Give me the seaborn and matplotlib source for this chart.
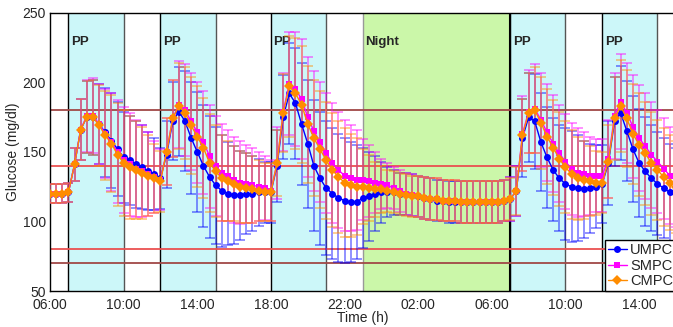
import numpy as np
import pandas as pd
import matplotlib
matplotlib.use("Agg")
import matplotlib.pyplot as plt
import matplotlib.dates as mdates
import seaborn as sns

# sampling instants: every 20 min, 06:00 day 1 -> 16:00 day 2
times = pd.date_range("2020-01-01 06:00", "2020-01-02 16:00", freq="20min")

# mean glucose (mg/dl), one line per block of the day
umpc_mean = (
    [120, 120, 120, 121, 141, 166, 175, 175, 170, 164, 158, 152, 146, 144, 141, 139, 136, 134]
    + [131, 148, 172, 179, 172, 160, 150, 140, 132, 126, 122, 120, 119, 119, 120, 120, 121, 121]
    + [121, 140, 175, 192, 185, 170, 156, 140, 131, 124, 120, 117, 115, 114, 114]
    + [117, 118, 120, 121, 121, 121, 120, 120, 119, 118, 117, 116,
       115, 115, 114, 114, 114, 114, 114, 114, 114, 114, 114, 115]
    + [116, 122, 160, 175, 172, 157, 146, 137, 131, 127, 125, 124, 123, 124, 125]
    + [127, 142, 172, 178, 165, 152, 142, 136, 131, 127, 124, 121, 119]
)
smpc_mean = (
    [120, 120, 120, 121, 141, 166, 176, 176, 170, 163, 157, 150, 144, 141, 138, 136, 134, 132]
    + [130, 150, 174, 184, 180, 172, 164, 157, 147, 140, 135, 133, 130, 128, 127, 126, 125, 124]
    + [122, 142, 179, 199, 195, 188, 175, 165, 157, 149, 142, 137, 133, 131, 130]
    + [130, 129, 128, 127, 126, 124, 122, 120, 119, 118, 117, 116,
       116, 115, 115, 115, 114, 114, 114, 114, 114, 114, 114, 115]
    + [116, 122, 163, 179, 181, 173, 164, 156, 149, 143, 138, 135, 134, 133, 133]
    + [133, 145, 176, 186, 178, 168, 160, 154, 148, 143, 138, 133, 130]
)
cmpc_mean = (
    [120, 120, 120, 121, 141, 166, 175, 175, 169, 162, 156, 148, 142, 139, 137, 135, 133, 131]
    + [129, 150, 174, 183, 178, 169, 161, 153, 142, 136, 131, 129, 127, 125, 124, 123, 122, 121]
    + [121, 142, 178, 197, 192, 184, 170, 160, 152, 144, 137, 132, 128, 126, 125]
    + [125, 124, 123, 123, 122, 121, 120, 119, 118, 118, 117, 116,
       116, 115, 115, 115, 114, 114, 114, 114, 114, 114, 114, 115]
    + [116, 122, 162, 178, 180, 171, 161, 153, 145, 139, 134, 131, 130, 129, 128]
    + [128, 143, 174, 183, 174, 163, 155, 149, 142, 137, 132, 128, 125]
)

# standard deviations (error bar half-heights)
umpc_sd = (
    [7, 7, 7, 7, 12, 22, 26, 27, 29, 32, 34, 34, 33, 32, 31, 30, 28, 26]
    + [22, 24, 28, 32, 36, 40, 43, 44, 44, 42, 40, 37, 35, 32, 29, 27, 24, 22]
    + [22, 26, 30, 36, 40, 44, 46, 47, 48, 48, 47, 46, 45, 43, 41]
    + [36, 32, 27, 22, 18, 16, 15, 15, 15, 15, 15, 15,
       15, 15, 15, 15, 15, 15, 15, 15, 15, 15, 15, 15]
    + [16, 18, 28, 32, 34, 35, 36, 37, 38, 40, 40, 38, 35, 32, 30]
    + [28, 30, 32, 34, 36, 38, 39, 39, 38, 37, 36, 35, 34]
)
smpc_sd = (
    [7, 7, 7, 7, 12, 22, 26, 27, 29, 32, 35, 37, 38, 37, 35, 33, 30, 26]
    + [22, 24, 28, 31, 33, 35, 36, 37, 37, 36, 35, 33, 31, 30, 28, 27, 25, 23]
    + [22, 26, 28, 37, 41, 43, 43, 43, 43, 43, 43, 42, 40, 38, 36]
    + [29, 26, 22, 18, 16, 15, 15, 15, 15, 15, 15, 15,
       15, 15, 15, 15, 15, 15, 15, 15, 15, 15, 15, 15]
    + [16, 18, 27, 30, 32, 34, 35, 35, 35, 34, 33, 32, 30, 28, 26]
    + [26, 28, 31, 34, 36, 37, 38, 38, 38, 37, 36, 35, 34]
)
cmpc_sd = (
    [7, 7, 7, 7, 12, 22, 26, 27, 29, 32, 35, 37, 38, 37, 35, 33, 29, 25]
    + [22, 24, 28, 31, 33, 35, 36, 36, 35, 33, 31, 29, 27, 26, 25, 24, 22, 21]
    + [21, 24, 28, 36, 40, 42, 42, 42, 42, 42, 41, 40, 39, 37, 35]
    + [27, 24, 20, 17, 15, 15, 15, 15, 15, 15, 15, 15,
       15, 15, 15, 15, 15, 15, 15, 15, 15, 15, 15, 15]
    + [15, 17, 26, 29, 31, 33, 34, 34, 34, 33, 32, 30, 28, 25, 23]
    + [22, 26, 30, 33, 35, 36, 37, 37, 37, 36, 35, 34, 33]
)

# post-prandial windows and the night window
pp_windows = [
    ("2020-01-01 07:00", "2020-01-01 10:00"),
    ("2020-01-01 12:00", "2020-01-01 15:00"),
    ("2020-01-01 18:00", "2020-01-01 21:00"),
    ("2020-01-02 07:00", "2020-01-02 10:00"),
    ("2020-01-02 12:00", "2020-01-02 15:00"),
]
night_window = ("2020-01-01 23:00", "2020-01-02 07:00")

# glucose thresholds
thresholds_dark = [180, 70]
thresholds_light = [140, 80]

series = [
    ("UMPC", umpc_mean, umpc_sd, "#0000ff", "o"),
    ("SMPC", smpc_mean, smpc_sd, "#ff00ff", "s"),
    ("CMPC", cmpc_mean, cmpc_sd, "#ff8c00", "D"),
]


def main():
    sns.set_style("ticks")
    plt.rcParams["font.family"] = ["Liberation Sans", "DejaVu Sans"]
    plt.rcParams["font.size"] = 10

    fig = plt.figure(figsize=(6.73, 3.27), dpi=100)
    ax = fig.add_axes([0.0743, 0.11, 0.930, 0.851])

    # shaded windows
    for start, end in pp_windows:
        ax.axvspan(pd.Timestamp(start), pd.Timestamp(end), color="#ccf7f9", lw=0, zorder=0)
        ax.axvline(pd.Timestamp(start), color="black", lw=1, zorder=1)
        ax.axvline(pd.Timestamp(end), color="#555555", lw=1, zorder=1)
        ax.text(pd.Timestamp(start) + pd.Timedelta(minutes=8), 229, "PP",
                fontsize=9.5, fontweight="bold", va="center", zorder=1)
    ax.axvspan(pd.Timestamp(night_window[0]), pd.Timestamp(night_window[1]),
               color="#cbf7a9", lw=0, zorder=0)
    ax.axvline(pd.Timestamp(night_window[0]), color="#999999", lw=1, zorder=1)
    ax.axvline(pd.Timestamp(night_window[1]), color="black", lw=1.5, zorder=1)
    ax.text(pd.Timestamp(night_window[0]) + pd.Timedelta(minutes=8), 229, "Night",
            fontsize=9.5, fontweight="bold", va="center", zorder=1)

    for th in thresholds_dark:
        ax.axhline(th, color="#a04846", lw=1.3, zorder=2)
    for th in thresholds_light:
        ax.axhline(th, color="#ea5050", lw=1.3, zorder=2)

    # error bars first, then the mean curves on top
    for name, mean, sd, color, marker in series:
        ax.errorbar(times, mean, yerr=sd, fmt="none", ecolor=color, elinewidth=1.1,
                    capsize=3.5, capthick=1.1, alpha=0.55, zorder=3)
    for name, mean, sd, color, marker in series:
        sns.lineplot(x=times, y=mean, color=color, marker=marker, markersize=5,
                     markeredgewidth=0, lw=1, label=name, ax=ax, zorder=4)

    ax.set_xlim(times[0], times[-1])
    ax.set_ylim(50, 250)
    ax.set_yticks([50, 100, 150, 200, 250])
    ax.xaxis.set_major_locator(mdates.HourLocator(byhour=[2, 6, 10, 14, 18, 22]))
    ax.xaxis.set_major_formatter(mdates.DateFormatter("%H:%M"))
    ax.tick_params(axis="y", length=0, pad=3, labelsize=10)
    ax.tick_params(axis="x", length=0, pad=5, labelsize=10)
    for sp in ax.spines.values():
        sp.set_color("black")
        sp.set_linewidth(1)

    ax.set_xlabel("Time (h)", fontsize=10, labelpad=-1)
    ax.set_ylabel("Glucose (mg/dl)", fontsize=10, labelpad=2)

    leg = ax.legend(loc="lower right", borderaxespad=0, fontsize=10.5,
                    handlelength=1.3, handletextpad=0.2, borderpad=0.2,
                    labelspacing=0.1, fancybox=False, framealpha=1)
    leg.get_frame().set_edgecolor("black")
    leg.get_frame().set_linewidth(1)

    fig.savefig("out.png", dpi=100)


if __name__ == "__main__":
    main()
